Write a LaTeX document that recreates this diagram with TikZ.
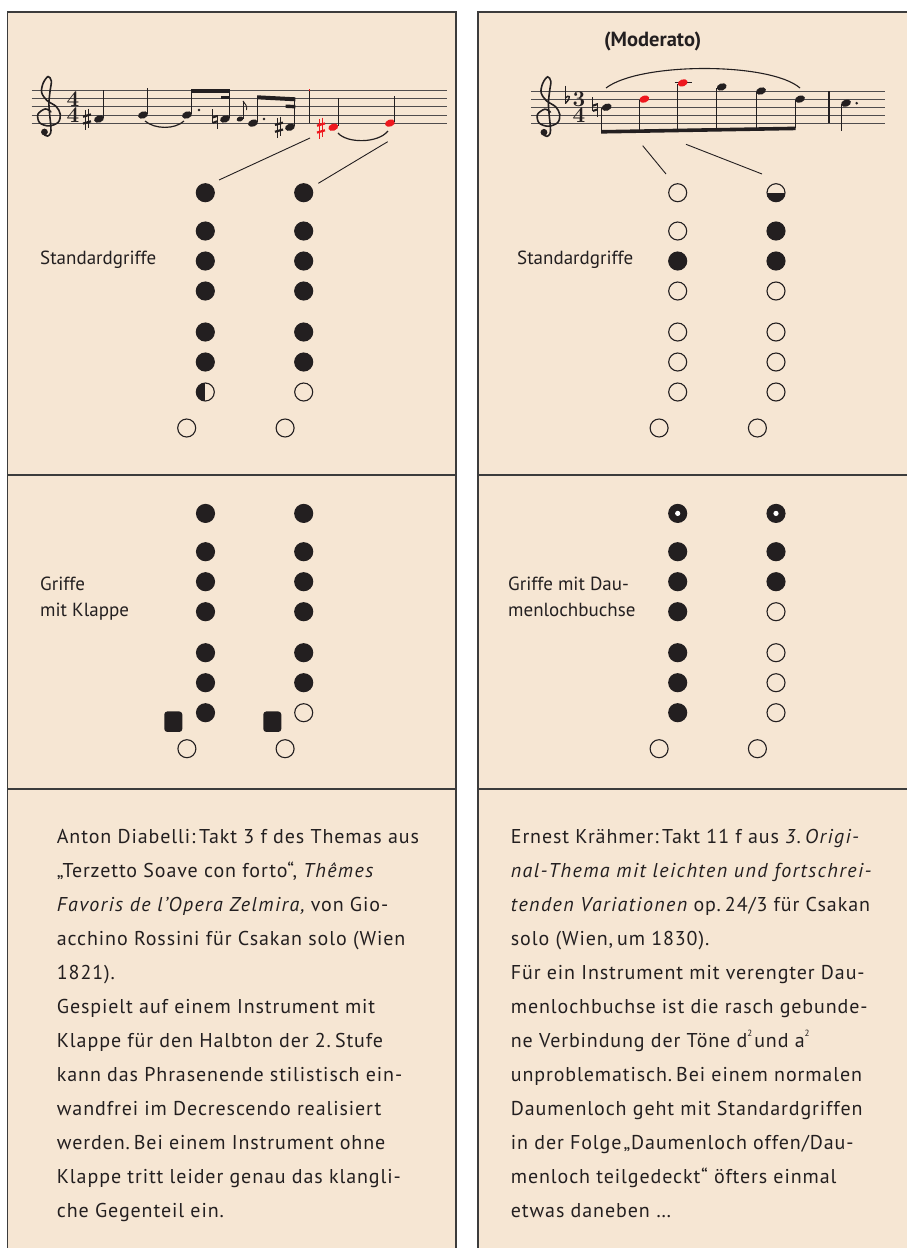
\documentclass[tikz,border=0pt]{standalone}
\usepackage{fontspec}
\newfontfamily\ptsans{PT Sans}
\newfontfamily\ptsansw[UprightFeatures={LetterSpace=4.5},ItalicFeatures={LetterSpace=7}]{PT Sans}
\definecolor{ink}{RGB}{35,31,32}
\definecolor{beige}{RGB}{246,230,211}
\definecolor{nred}{RGB}{238,24,30}
\definecolor{frame}{RGB}{60,60,60}

\newcommand\nhead[3][ink]{\fill[#1, rotate around={20:(#2,#3)}] (#2,#3) ellipse (5.1 and 3.5);}
\newcommand\ndot[2]{\fill[ink] (#1,#2) circle (1.4);}
\newcommand\mySharp[3][ink]{%
  \begin{scope}[shift={(#2,#3)}]
    \draw[#1, line width=0.9pt] (-1.8,-9) -- (-1.8,10.5) (1.8,-10.5) -- (1.8,9);
    \draw[#1, line width=2.2pt] (-4,-2.3) -- (4,-4.6) (-4,4.6) -- (4,2.3);
  \end{scope}}
\newcommand\myNat[2]{%
  \begin{scope}[shift={(#1,#2)}]
    \draw[ink, line width=0.9pt] (-2.2,-10) -- (-2.2,4) (2.2,-4) -- (2.2,10);
    \draw[ink, line width=2pt] (-2.2,-1.5) -- (2.2,-3) (-2.2,3.8) -- (2.2,2.3);
  \end{scope}}
\newcommand\myFlat[2]{%
  \begin{scope}[shift={(#1,#2)}]
    \draw[ink, line width=0.9pt] (-2,-15) -- (-2,3);
    \draw[ink, line width=1.4pt] (-2,-2.5) .. controls (1,-6) and (5.5,-4.5) .. (-2,3);
  \end{scope}}
\newcommand\myClef[2]{%
  \begin{scope}[shift={(#1,#2)}, x=8.1pt, y=8.1pt]
    \draw[ink, line width=1.6pt, line cap=round] plot[smooth, tension=0.55] coordinates {(0.3,0.4) (-0.4,0.75) (-1.3,0.1) (-1.1,-0.95) (0.05,-1.35) (1.2,-0.9) (1.45,0.1) (0.95,1.05) (-0.2,1.8) (-0.85,2.8) (-0.65,3.95) (-0.05,4.75) (0.35,4.2) (0.2,3.0) (0.05,1.5) (0.15,0) (0.3,-1.5) (0.25,-2.25) (-0.1,-2.6) (-0.5,-2.45)};
    \fill[ink] (-0.5,-2.1) circle (0.42);
  \end{scope}}
\newcommand\holecol[4]{%
  \foreach \t [count=\i] in {#4} {
    \pgfmathsetmacro\yy{{192.7,231,261,291,332,362,392}[\i-1]+#3}
    \node[holetype/.expand once=\t] (#1-\i) at (#2,\yy) {};
  }
  \node[holeO] (#1-b) at (#2-18.6,428+#3) {};
}
\newcommand\sq{\raisebox{0.55em}{\fontsize{9}{9}\selectfont 2}}

\begin{document}
\begin{tikzpicture}[x=1pt,y=-1pt,
  frameline/.style={draw=frame, line width=1.6pt},
  staffline/.style={draw=ink!80, line width=0.9pt},
  stem/.style={draw=ink, line width=1.1pt},
  conn/.style={draw=ink, line width=0.9pt},
  hole/.style={circle, inner sep=0pt, minimum size=18pt, line width=1.1pt, draw=ink},
  holeF/.style={hole, fill=ink},
  holeO/.style={hole},
  holeHL/.style={hole, path picture={\fill[ink] (path picture bounding box.south west) rectangle (path picture bounding box.north);}},
  holeHB/.style={hole, path picture={\fill[ink] (path picture bounding box.west) rectangle (path picture bounding box.south east);}},
  holeD/.style={hole, fill=ink, path picture={\fill[white] (path picture bounding box.center) circle (2.6pt);}},
  holetype/.style={hole#1},
  keysq/.style={rectangle, rounded corners=3pt, minimum width=18pt, minimum height=20.5pt, fill=ink, inner sep=0pt},
  lbl/.style={font=\ptsans\fontsize{19}{22}\selectfont, text=ink, inner sep=0pt, anchor=base west},
  body/.style={font=\ptsansw\fontsize{20}{22}\selectfont, text=ink, inner sep=0pt, anchor=base west},
  tsig/.style={font=\bfseries\fontsize{22.5}{16.6}\selectfont, text=ink, inner sep=0pt, align=center},
]
\useasboundingbox (0,0) rectangle (907,1248);
\fill[white] (0,0) rectangle (907,1248);
% panels
\fill[beige] (7.5,12) rectangle (456,1248);
\fill[beige] (478,12) rectangle (907,1248);
\draw[frameline] (7.5,1248) -- (7.5,12) -- (456,12) -- (456,1248);
\draw[frameline] (478,1248) -- (478,12) -- (907,12);
\draw[frameline] (7.5,475) -- (456,475) (7.5,789) -- (456,789);
\draw[frameline] (478,475) -- (907,475) (478,789) -- (907,789);

% ===== left staff =====
\foreach \k in {0,...,4} \draw[staffline] (31.7,90.7+8.1*\k) -- (446.7,90.7+8.1*\k);
\myClef{48.5}{115}
\node[tsig] (lts) at (73,106.9) {4\\4};
% F#4 quarter
\mySharp{87}{119}
\nhead{99}{119} \draw[stem] (103.8,118) -- (103.8,90);
% G4 quarter tied
\nhead{143}{115} \draw[stem] (147.8,114) -- (147.8,87.7);
\draw[ink, line width=1.2pt] (145,121) .. controls (155,129.5) and (175,129.5) .. (184,121);
% G4 dotted eighth + F4 sixteenth
\nhead{187}{115} \draw[stem] (191.8,114) -- (191.8,90); \ndot{199}{110}
\myNat{215}{119}
\nhead{225}{119} \draw[stem] (229.8,118) -- (229.8,90);
\fill[ink] (191.2,88.7) rectangle (230.4,92.7);
\fill[ink] (221,95.8) rectangle (230.4,99.3);
% grace note
\fill[ink, rotate around={20:(240,119)}] (240,119) ellipse (3.4 and 2.5);
\draw[ink, line width=0.8pt] (243,118.5) -- (243,101);
\draw[ink, line width=0.9pt] (243,101) .. controls (244,104) and (248,105) .. (246.5,110);
% E4 dotted eighth + D#4 sixteenth
\nhead{253}{123.1} \draw[stem] (257.8,122) -- (257.8,97); \ndot{264}{119}
\mySharp{279}{127.2}
\nhead{290}{127.2} \draw[stem] (294.8,126) -- (294.8,99);
\fill[ink] (257.2,95.3) -- (295.4,97.3) -- (295.4,101.3) -- (257.2,99.3) -- cycle;
\fill[ink] (285.5,104.5) -- (295.4,105) -- (295.4,108.4) -- (285.5,107.9) -- cycle;
% barline
\draw[ink, line width=1.5pt] (309.3,90.7) -- (309.3,123.1);
\fill[nred] (308.6,88.5) rectangle (310,91);
% red notes
\mySharp[nred]{321}{128}
\nhead[nred]{333.3}{127.2} \draw[stem] (338.1,126) -- (338.1,98);
\draw[ink, line width=1.2pt] (338,133) .. controls (347,143.5) and (378,143.5) .. (388,131);
\nhead[nred]{390}{123.1} \draw[stem] (394.8,122) -- (394.8,95.7);

% ===== right staff =====
\node[font=\ptsans\bfseries\fontsize{20.5}{22}\selectfont, text=ink, inner sep=0pt] (moderato) at (652.7,41.7) {(Moderato)};
\foreach \k in {0,...,4} \draw[staffline] (531,91+8.1*\k) -- (885,91+8.1*\k);
\myClef{548}{115.3}
\myFlat{567.3}{100.5}
\node[tsig] (rts) at (579,107.2) {3\\4};
\myNat{595}{107.2}
\nhead{606.7}{107.2} \draw[stem] (601.8,108) -- (601.8,131.8);
\nhead[nred]{644.3}{99.1} \draw[stem] (639.4,100) -- (639.4,131.1);
\draw[ink, line width=1pt] (674.5,82.9) -- (692,82.9);
\nhead[nred]{682.7}{82.9} \draw[stem] (677.8,84) -- (677.8,130.5);
\nhead{721.7}{86.95} \draw[stem] (716.8,88) -- (716.8,129.8);
\nhead{761}{91} \draw[stem] (756.1,92) -- (756.1,129.1);
\nhead{800}{99.1} \draw[stem] (795.1,100) -- (795.1,128.4);
\fill[ink] (601.2,130) -- (795.7,126.6) -- (795.7,130.2) -- (601.2,133.6) -- cycle;
\draw[ink, line width=1.1pt] (606,88) .. controls (640,62) and (770,62) .. (800,88);
\draw[ink, line width=1.5pt] (829,91) -- (829,123.4);
\nhead{846}{103.15} \draw[stem] (841.1,104) -- (841.1,130.7); \ndot{856.7}{103.15}

% ===== hole charts =====
\holecol{a}{205.3}{0}{F,F,F,F,F,F,HL}
\holecol{b}{303.7}{0}{F,F,F,F,F,F,O}
\holecol{c}{677.7}{0}{O,O,F,O,O,O,O}
\holecol{d}{776}{0}{HB,F,F,O,O,O,O}
\holecol{e}{205.5}{320.7}{F,F,F,F,F,F,F}
\holecol{f}{303.7}{320.7}{F,F,F,F,F,F,O}
\holecol{g}{677.7}{320.7}{D,F,F,F,F,F,F}
\holecol{h}{776}{320.7}{D,F,F,O,O,O,O}
\node[keysq] (ekey) at (173.3,721.7) {};
\node[keysq] (fkey) at (272.3,721.7) {};

% connectors
\coordinate (c1s) at (310,138); \coordinate (c1e) at (219,180);
\coordinate (c2s) at (387.7,141.7); \coordinate (c2e) at (318.3,183.3);
\coordinate (c3s) at (642.7,145.7); \coordinate (c3e) at (666,174);
\coordinate (c4s) at (686,144.3); \coordinate (c4e) at (762,174);
\draw[conn] (c1s) -- (c1e);
\draw[conn] (c2s) -- (c2e);
\draw[conn] (c3s) -- (c3e);
\draw[conn] (c4s) -- (c4e);

% labels
\node[lbl] (lab1) at (40,264) {Standardgriffe};
\node[lbl] (lab2) at (517,264) {Standardgriffe};
\node[lbl] (lab3a) at (40,590) {Griffe};
\node[lbl] (lab3b) at (40,616.5) {mit Klappe};
\node[lbl] (lab4a) at (508,590) {Griffe mit Dau-};
\node[lbl] (lab4b) at (508,616.5) {menlochbuchse};

% left text
\node[body] (t1) at (56.7,843.3) {Anton Diabelli:\hspace{0.18em}Takt 3 f des Themas aus};
\node[body] (t2) at (56.7,877.3) {„Terzetto Soave con forto“, \itshape Thêmes};
\node[body] (t3) at (56.7,911.3) {\itshape Favoris de l’Opera Zelmira,\upshape\ von Gio-};
\node[body] (t4) at (56.7,945.3) {acchino Rossini für Csakan solo (Wien};
\node[body] (t5) at (56.7,979.3) {1821).};
\node[body] (t6) at (56.7,1013.3) {Gespielt auf einem Instrument mit};
\node[body] (t7) at (56.7,1047.3) {Klappe für den Halbton der 2.\hspace{0.2em}Stufe};
\node[body] (t8) at (56.7,1081.3) {kann das Phrasenende stilistisch ein-};
\node[body] (t9) at (56.7,1115.3) {wandfrei im Decrescendo realisiert};
\node[body] (t10) at (56.7,1149.3) {werden.\hspace{0.2em}Bei einem Instrument ohne};
\node[body] (t11) at (56.7,1183.3) {Klappe tritt leider genau das klangli-};
\node[body] (t12) at (56.7,1217.3) {che Gegenteil ein.};
% right text
\node[body] (r1) at (510.7,843.3) {Ernest Krähmer:\hspace{0.18em}Takt 11 f aus \itshape 3.\hspace{0.2em}Origi-};
\node[body] (r2) at (510.7,877.3) {\itshape nal-Thema mit leichten und fortschrei-};
\node[body] (r3) at (510.7,911.3) {\itshape tenden Variationen\upshape\ op.\hspace{0.2em}24/3 für Csakan};
\node[body] (r4) at (510.7,945.3) {solo (Wien,\hspace{0.2em}um 1830).};
\node[body] (r5) at (510.7,979.3) {Für ein Instrument mit verengter Dau-};
\node[body] (r6) at (510.7,1013.3) {menlochbuchse ist die rasch gebunde-};
\node[body] (r7) at (510.7,1047.3) {ne Verbindung der Töne d\sq\hspace{0.1em}und a\sq};
\node[body] (r8) at (510.7,1081.3) {unproblematisch.\hspace{0.2em}Bei einem normalen};
\node[body] (r9) at (510.7,1115.3) {Daumenloch geht mit Standardgriffen};
\node[body] (r10) at (510.7,1149.3) {in der Folge\hspace{0.1em}„Daumenloch offen/Dau-};
\node[body] (r11) at (510.7,1183.3) {menloch teilgedeckt“ öfters einmal};
\node[body] (r12) at (510.7,1217.3) {etwas daneben …};
\end{tikzpicture}
\end{document}
